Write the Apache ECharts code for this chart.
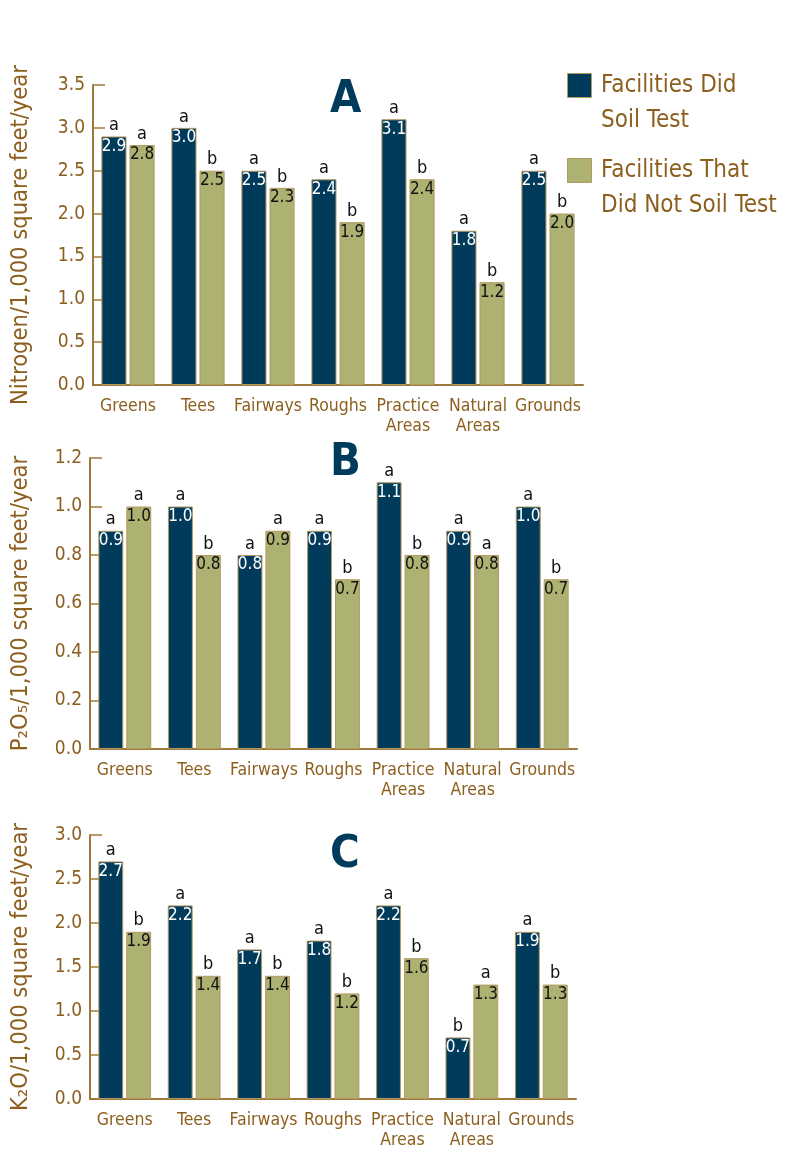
<!DOCTYPE html>
<html>
<head>
<meta charset="utf-8">
<script src="https://cdn.jsdelivr.net/npm/echarts@6/dist/echarts.min.js"></script>
<style>
  html, body { margin: 0; padding: 0; background: #fff; }
  #main { width: 800px; height: 1155px; }
</style>
</head>
<body>
<div id="main"></div>
<script>
// data
const categories = ['Greens', 'Tees', 'Fairways', 'Roughs', 'Practice\nAreas', 'Natural\nAreas', 'Grounds'];
const seriesNames = ['Facilities Did\nSoil Test', 'Facilities That\nDid Not Soil Test'];

const nitrogenTested = [2.9, 3.0, 2.5, 2.4, 3.1, 1.8, 2.5];
const nitrogenTestedSig = ['a', 'a', 'a', 'a', 'a', 'a', 'a'];
const nitrogenUntested = [2.8, 2.5, 2.3, 1.9, 2.4, 1.2, 2.0];
const nitrogenUntestedSig = ['a', 'b', 'b', 'b', 'b', 'b', 'b'];

const phosTested = [0.9, 1.0, 0.8, 0.9, 1.1, 0.9, 1.0];
const phosTestedSig = ['a', 'a', 'a', 'a', 'a', 'a', 'a'];
const phosUntested = [1.0, 0.8, 0.9, 0.7, 0.8, 0.8, 0.7];
const phosUntestedSig = ['a', 'b', 'a', 'b', 'b', 'a', 'b'];

const potTested = [2.7, 2.2, 1.7, 1.8, 2.2, 0.7, 1.9];
const potTestedSig = ['a', 'a', 'a', 'a', 'a', 'b', 'a'];
const potUntested = [1.9, 1.4, 1.4, 1.2, 1.6, 1.3, 1.3];
const potUntestedSig = ['b', 'b', 'b', 'b', 'b', 'a', 'b'];

const panelLetters = ['A', 'B', 'C'];
const axisNames = ['Nitrogen/1,000 square feet/year', 'P₂O₅/1,000 square feet/year', 'K₂O/1,000 square feet/year'];
const yMax = [3.5, 1.2, 3.0];
const yStep = [0.5, 0.2, 0.5];

const FONT = "'DejaVu Sans Condensed', 'Liberation Sans Narrow', sans-serif";
const NAVY = '#003b5c';
const OLIVE = '#adb172';
const GOLD = '#9e7a3a';
const BROWN = '#8c5f1e';

const chart = echarts.init(document.getElementById('main'), null, { renderer: 'canvas' });

const grids = [
  { left: 93, right: 217, top: 85, height: 300 },
  { left: 90, right: 223, top: 458, height: 291 },
  { left: 90, right: 224, top: 835, height: 264 }
];

const xAxes = grids.map((g, i) => ({
  type: 'category',
  gridIndex: i,
  data: categories,
  axisLine: { lineStyle: { color: GOLD, width: 2 } },
  axisTick: { inside: true, length: 6, lineStyle: { color: GOLD, width: 1.5 } },
  axisLabel: { interval: 0, color: BROWN, fontFamily: FONT, fontSize: 17.5, lineHeight: 20, margin: 11 }
}));

const yAxes = grids.map((g, i) => ({
  type: 'value',
  gridIndex: i,
  min: 0,
  max: yMax[i],
  interval: yStep[i],
  name: axisNames[i],
  nameLocation: 'middle',
  nameRotate: 90,
  nameGap: i === 0 ? 60 : 57,
  nameTextStyle: { color: BROWN, fontFamily: FONT, fontSize: 23.5 },
  splitLine: { show: false },
  axisLine: { show: true, lineStyle: { color: GOLD, width: 2 } },
  axisTick: { show: true, inside: true, length: 12, lineStyle: { color: GOLD, width: 1.5 } },
  axisLabel: { color: BROWN, fontFamily: FONT, fontSize: 19, margin: 8, formatter: v => v.toFixed(1) }
}));

function barSeries(panel, name, values, sig, color, valueColor) {
  return {
    type: 'bar',
    name: name,
    xAxisIndex: panel,
    yAxisIndex: panel,
    data: values,
    barCategoryGap: '24%',
    barGap: '12%',
    itemStyle: { color: color, borderColor: '#b39a62', borderWidth: 1 },
    label: {
      show: true,
      position: ['50%', -22],
      align: 'center',
      verticalAlign: 'top',
      formatter: p => '{l|' + sig[p.dataIndex] + '}\n{v|' + Number(p.value).toFixed(1) + '}',
      rich: {
        l: { color: '#111', fontFamily: FONT, fontSize: 18, lineHeight: 22, align: 'center' },
        v: { color: valueColor, fontFamily: FONT, fontSize: 17, lineHeight: 20, align: 'center' }
      }
    }
  };
}

const panels = [
  [nitrogenTested, nitrogenTestedSig, nitrogenUntested, nitrogenUntestedSig],
  [phosTested, phosTestedSig, phosUntested, phosUntestedSig],
  [potTested, potTestedSig, potUntested, potUntestedSig]
];

const series = [];
panels.forEach((p, i) => {
  series.push(barSeries(i, seriesNames[0], p[0], p[1], NAVY, '#fff'));
  series.push(barSeries(i, seriesNames[1], p[2], p[3], OLIVE, '#111'));
});

const titleTops = [78, 441, 833];
const title = panelLetters.map((t, i) => ({
  text: t,
  left: 330,
  top: titleTops[i],
  padding: 0,
  textStyle: { color: NAVY, fontFamily: FONT, fontSize: 45, fontWeight: 'bold' }
}));

// legend drawn as graphic so the swatch sits on the first text line
const legendTops = [73, 158];
const legendColors = [NAVY, OLIVE];
const graphic = [];
seriesNames.forEach((n, i) => {
  graphic.push({
    type: 'rect',
    left: 567, top: legendTops[i],
    shape: { width: 24, height: 24 },
    style: { fill: legendColors[i], stroke: '#b39a62', lineWidth: 1 }
  });
  graphic.push({
    type: 'text',
    left: 601, top: legendTops[i] - 5,
    style: { text: n, fill: BROWN, font: '24px ' + FONT, lineHeight: 35 }
  });
});

chart.setOption({
  animation: false,
  title: title,
  grid: grids,
  xAxis: xAxes,
  yAxis: yAxes,
  series: series,
  graphic: graphic
});
</script>
</body>
</html>
